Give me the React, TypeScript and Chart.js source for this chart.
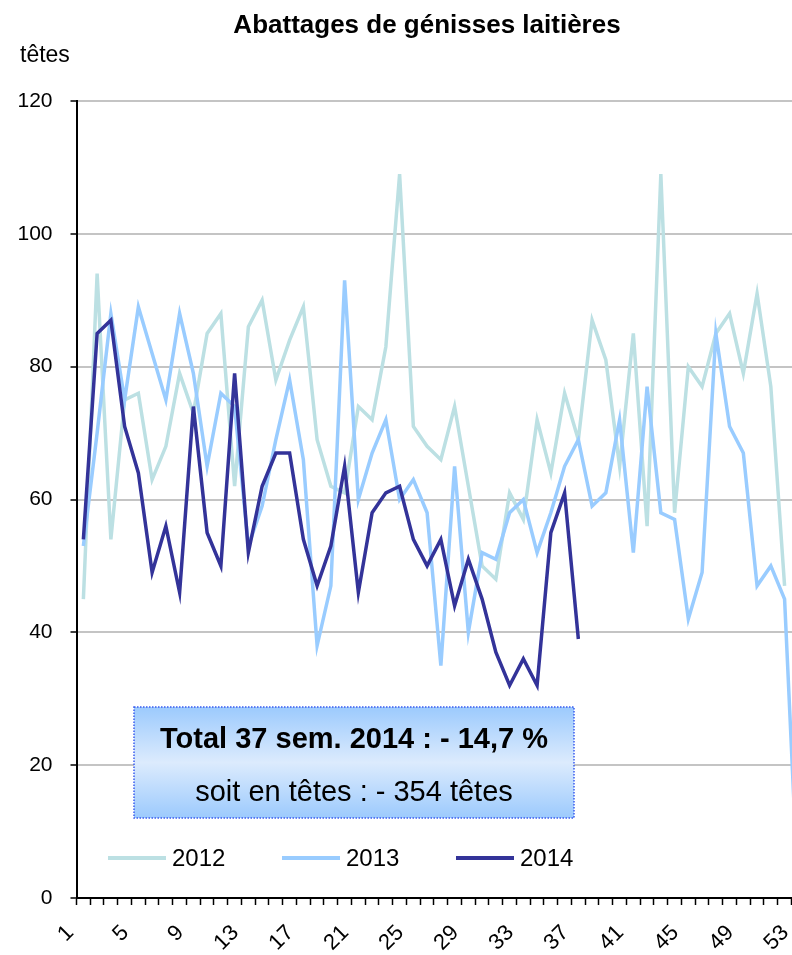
import React, { useEffect, useRef } from "react";
import { Chart, registerables } from "chart.js";

Chart.register(...registerables);

const FONT = '"Liberation Sans", Arial, sans-serif';

const TITLE = "Abattages de génisses laitières";
const UNIT = "têtes";
const BOX_LINE1 = "Total 37 sem. 2014 : - 14,7 %";
const BOX_LINE2 = "soit en têtes : - 354 têtes";

const weeks = [
  "1", "2", "3", "4", "5", "6", "7", "8", "9", "10",
  "11", "12", "13", "14", "15", "16", "17", "18", "19", "20",
  "21", "22", "23", "24", "25", "26", "27", "28", "29", "30",
  "31", "32", "33", "34", "35", "36", "37", "38", "39", "40",
  "41", "42", "43", "44", "45", "46", "47", "48", "49", "50",
  "51", "52", "53",
];

const shownWeekLabels = ["1", "5", "9", "13", "17", "21", "25", "29", "33", "37", "41", "45", "49", "53"];

const yTickValues = [0, 20, 40, 60, 80, 100, 120];

const series2012 = [
  45, 94, 54, 75, 76, 63, 68, 79, 73, 85,
  88, 62, 86, 90, 78, 84, 89, 69, 62, 61,
  74, 72, 83, 109, 71, 68, 66, 74, 62, 50,
  48, 61, 57, 72, 64, 76, 69, 87, 81, 65,
  85, 56, 109, 58, 80, 77, 85, 88, 79, 91,
  77, 47, null,
];

const series2013 = [
  53, 70, 88, 75, 89, 82, 75, 88, 79, 65,
  76, 74, 53, 59, 69, 78, 66, 38, 47, 93,
  60, 67, 72, 60, 63, 58, 35, 65, 40, 52,
  51, 58, 60, 52, 58, 65, 69, 59, 61, 72,
  52, 77, 58, 57, 42, 49, 85, 71, 67, 47,
  50, 45, 0,
];

const series2014 = [
  54, 85, 87, 71, 64, 49, 56, 46, 74, 55,
  50, 79, 52, 62, 67, 67, 54, 47, 53, 65,
  46, 58, 61, 62, 54, 50, 54, 44, 51, 45,
  37, 32, 36, 32, 55, 61, 39,
];

const overlayPlugin = {
  id: "overlay",
  afterDraw(chart: any) {
    const ctx = chart.ctx;
    ctx.save();
    // title
    ctx.fillStyle = "#000";
    ctx.textAlign = "center";
    ctx.textBaseline = "alphabetic";
    ctx.font = `bold 26px ${FONT}`;
    ctx.fillText(TITLE, 427, 33);
    // unit
    ctx.textAlign = "left";
    ctx.font = `23px ${FONT}`;
    ctx.fillText(UNIT, 20, 62);
    // annotation box
    const bx = 134, by = 707, bw = 440, bh = 111;
    const g = ctx.createLinearGradient(0, by, 0, by + bh);
    g.addColorStop(0, "#9ccafd");
    g.addColorStop(0.5, "#dcebfd");
    g.addColorStop(1, "#9ccafd");
    ctx.fillStyle = g;
    ctx.fillRect(bx, by, bw, bh);
    ctx.setLineDash([1.5, 1.5]);
    ctx.strokeStyle = "#3a5cf0";
    ctx.lineWidth = 1.5;
    ctx.strokeRect(bx, by, bw, bh);
    ctx.setLineDash([]);
    ctx.fillStyle = "#000";
    ctx.textAlign = "center";
    ctx.textBaseline = "middle";
    ctx.font = `bold 29px ${FONT}`;
    ctx.fillText(BOX_LINE1, bx + bw / 2, 740);
    ctx.font = `29px ${FONT}`;
    ctx.fillText(BOX_LINE2, bx + bw / 2, 793);
    // legend
    const ds = chart.data.datasets;
    ds.forEach((d: any, i: number) => {
      const x0 = 108 + i * 174;
      const y0 = 858;
      ctx.strokeStyle = d.borderColor;
      ctx.lineWidth = 4;
      ctx.beginPath();
      ctx.moveTo(x0, y0);
      ctx.lineTo(x0 + 58, y0);
      ctx.stroke();
      ctx.fillStyle = "#000";
      ctx.textAlign = "left";
      ctx.textBaseline = "middle";
      ctx.font = `24px ${FONT}`;
      ctx.fillText(d.label, x0 + 64, y0 + 1);
    });
    ctx.restore();
  },
};

export default function App() {
  const canvasRef = useRef<HTMLCanvasElement | null>(null);

  useEffect(() => {
    if (!canvasRef.current) return;
    Chart.defaults.font.family = FONT;
    const chart = new Chart(canvasRef.current, {
      type: "line",
      data: {
        labels: weeks,
        datasets: [
          {
            label: "2012",
            data: series2012,
            borderColor: "#bce0e3",
            backgroundColor: "#bce0e3",
            borderWidth: 3.5,
            pointRadius: 0,
            tension: 0,
            order: 2,
          },
          {
            label: "2013",
            data: series2013,
            borderColor: "#99ccff",
            backgroundColor: "#99ccff",
            borderWidth: 3.5,
            pointRadius: 0,
            tension: 0,
            order: 1,
          },
          {
            label: "2014",
            data: series2014,
            borderColor: "#333399",
            backgroundColor: "#333399",
            borderWidth: 3.5,
            pointRadius: 0,
            tension: 0,
            order: 0,
          },
        ],
      },
      options: {
        animation: false,
        responsive: true,
        maintainAspectRatio: false,
        layout: { padding: { top: 101, left: 0, right: 0, bottom: 0 } },
        plugins: {
          legend: { display: false },
          title: { display: false },
          tooltip: { enabled: false },
        },
        scales: {
          x: {
            type: "category",
            offset: true,
            grid: {
              display: true,
              offset: true,
              drawOnChartArea: false,
              drawTicks: true,
              tickLength: 7,
              tickColor: "#000",
              tickWidth: 1.5,
            },
            border: { display: true, color: "#000", width: 2 },
            ticks: {
              autoSkip: false,
              maxRotation: 45,
              minRotation: 45,
              color: "#000",
              font: { size: 22 },
              labelOffset: -13,
              padding: 15,
              callback: (_v: any, i: number) =>
                shownWeekLabels.includes(weeks[i]) ? weeks[i] : "",
            },
            afterFit: (scale: any) => {
              scale.height = 57;
            },
          },
          y: {
            min: 0,
            max: 120,
            afterBuildTicks: (scale: any) => {
              scale.ticks = yTickValues.map((v) => ({ value: v }));
            },
            grid: {
              color: "#c4c4c4",
              lineWidth: 2,
              tickColor: "#000",
              tickLength: 6,
              tickWidth: 1.5,
            },
            border: { display: true, color: "#000", width: 2 },
            ticks: {
              color: "#000",
              font: { size: 21 },
              padding: 18,
            },
            afterFit: (scale: any) => {
              scale.width = 76.5;
            },
          },
        },
      },
      plugins: [overlayPlugin],
    });
    return () => chart.destroy();
  }, []);

  return (
    <div
      style={{
        position: "absolute",
        left: 0,
        top: 0,
        width: 792,
        height: 955,
        overflow: "hidden",
        background: "#fff",
      }}
    >
      <div style={{ position: "relative", width: 832, height: 955 }}>
        <canvas ref={canvasRef} />
      </div>
    </div>
  );
}
